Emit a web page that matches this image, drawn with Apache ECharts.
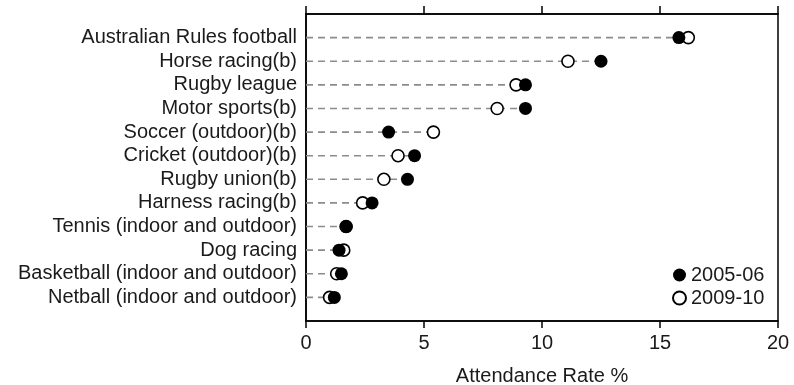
<!DOCTYPE html>
<html>
<head>
<meta charset="utf-8">
<script src="https://cdn.jsdelivr.net/npm/echarts@6/dist/echarts.min.js"></script>
<style>
  html, body { margin: 0; padding: 0; background: #fff; }
  #main { width: 794px; height: 385px; }
</style>
</head>
<body>
<div id="main"></div>
<script>
// sports, top to bottom
var sports = [
    'Australian Rules football',
    'Horse racing(b)',
    'Rugby league',
    'Motor sports(b)',
    'Soccer (outdoor)(b)',
    'Cricket (outdoor)(b)',
    'Rugby union(b)',
    'Harness racing(b)',
    'Tennis (indoor and outdoor)',
    'Dog racing',
    'Basketball (indoor and outdoor)',
    'Netball (indoor and outdoor)'
];
var rate0506 = [15.8, 12.5, 9.3, 9.3, 3.5, 4.6, 4.3, 2.8, 1.7, 1.4, 1.5, 1.2];
var rate0910 = [16.2, 11.1, 8.9, 8.1, 5.4, 3.9, 3.3, 2.4, 1.7, 1.6, 1.3, 1.0];
var xTicks = [0, 5, 10, 15, 20];

var fontName = 'Liberation Sans';
var textColor = '#1a1a1a';

var myChart = echarts.init(document.getElementById('main'));

var filledData = rate0506.map(function (v, i) { return [v, i]; });
var openData = rate0910.map(function (v, i) { return [v, i]; });
var guideData = sports.map(function (s, i) { return [Math.max(rate0506[i], rate0910[i]), i]; });

var option = {
    animation: false,
    backgroundColor: '#fff',
    grid: {
        left: 306,
        right: 16,
        top: 14,
        bottom: 64,
        outerBoundsMode: 'none',
        containLabel: false,
        show: true,
        borderColor: '#000',
        borderWidth: 1.5
    },
    legend: {
        orient: 'vertical',
        left: 667,
        top: 260,
        itemGap: 3,
        itemWidth: 13,
        itemHeight: 13,
        icon: 'circle',
        data: ['2005-06', '2009-10'],
        textStyle: { fontFamily: fontName, fontSize: 20, color: textColor }
    },
    xAxis: [
        {
            type: 'value',
            position: 'bottom',
            min: xTicks[0],
            max: xTicks[xTicks.length - 1],
            interval: 5,
            name: 'Attendance Rate %',
            nameLocation: 'middle',
            nameGap: 45,
            nameTextStyle: { fontFamily: fontName, fontSize: 20, color: textColor },
            axisLine: { show: true, onZero: false, lineStyle: { color: '#000', width: 1.5 } },
            axisTick: { show: true, length: 7, lineStyle: { color: '#000', width: 1.5 } },
            axisLabel: { fontFamily: fontName, fontSize: 20, color: textColor, margin: 12 },
            splitLine: { show: false }
        },
        {
            type: 'value',
            position: 'top',
            min: xTicks[0],
            max: xTicks[xTicks.length - 1],
            interval: 5,
            axisLine: { show: true, onZero: false, lineStyle: { color: '#000', width: 1.5 } },
            axisTick: { show: true, length: 8, lineStyle: { color: '#000', width: 1.5 } },
            axisLabel: { show: false },
            splitLine: { show: false }
        }
    ],
    yAxis: {
        type: 'value',
        inverse: true,
        min: -1,
        max: 12,
        interval: 1,
        axisLine: { show: true, onZero: false, lineStyle: { color: '#000', width: 1.5 } },
        axisTick: { show: false },
        splitLine: { show: false },
        axisLabel: {
            fontFamily: fontName,
            fontSize: 20,
            color: textColor,
            margin: 9,
            formatter: function (v) {
                return sports[v] !== undefined ? sports[v] : '';
            }
        }
    },
    series: [
        {
            name: 'guide',
            type: 'custom',
            silent: true,
            z: 1,
            renderItem: function (params, api) {
                var s = api.coord([0, api.value(1)]);
                var e = api.coord([api.value(0), api.value(1)]);
                return {
                    type: 'line',
                    shape: { x1: s[0], y1: s[1], x2: e[0], y2: e[1] },
                    style: { stroke: '#8c8c8c', lineWidth: 1.6, lineDash: [7, 5] }
                };
            },
            data: guideData
        },
        {
            name: '2009-10',
            type: 'scatter',
            z: 3,
            symbol: 'circle',
            symbolSize: 12,
            itemStyle: { color: '#fff', borderColor: '#000', borderWidth: 1.6, opacity: 1 },
            data: openData
        },
        {
            name: '2005-06',
            type: 'scatter',
            z: 4,
            symbol: 'circle',
            symbolSize: 13,
            itemStyle: { color: '#000', opacity: 1 },
            data: filledData
        }
    ]
};

myChart.setOption(option);
</script>
</body>
</html>
